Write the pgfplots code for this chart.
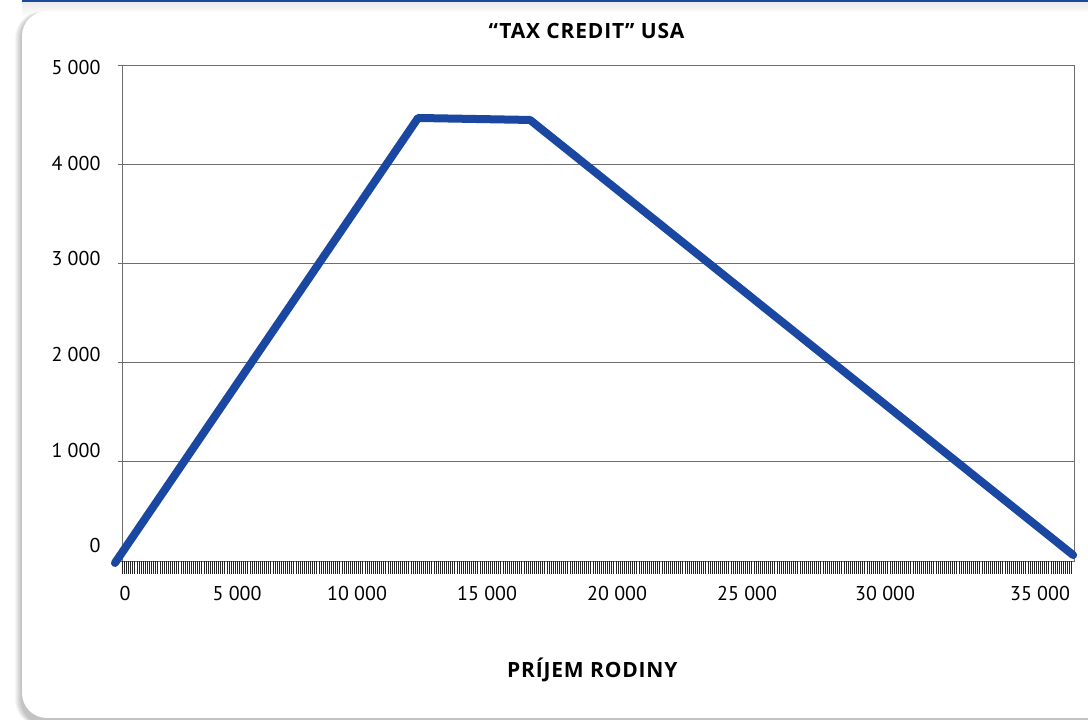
\documentclass[border=0pt]{standalone}
\usepackage{pgfplots}
\pgfplotsset{compat=1.18}
\usepackage{fontspec}
\setmainfont{PT Sans}
\newfontfamily\headfont[LetterSpace=4]{Open Sans}
\definecolor{creditblue}{HTML}{1A47A1}
\definecolor{barblue}{HTML}{1B4A9C}
\definecolor{gridgray}{HTML}{6E6E6E}

\begin{document}
\begin{tikzpicture}[x=1pt,y=1pt]
  \path[use as bounding box] (0,0) rectangle (1088,720);
  \clip (0,0) rectangle (1088,720);
  \fill[white] (0,0) rectangle (1088,720);
  % header rule and haze below it
  \fill[barblue] (22,717) rectangle (1088,720);
  \shade[top color=black!7, bottom color=white] (22,703) rectangle (1088,717);
  % card shadow
  \foreach \d in {1,...,7}{
    \fill[black, opacity=0.035, rounded corners=26] (22-\d,-6) rectangle (1120,708);
  }
  % card
  \fill[white, rounded corners=25] (22,2) rectangle (1120,709);

  \begin{axis}[
    at={(122pt,159pt)}, anchor=south west,
    scale only axis, width=952pt, height=496pt,
    xmin=-115, xmax=36300, ymin=0, ymax=5000,
    clip=false, scaled x ticks=false, scaled y ticks=false,
    axis line style={gridgray, line width=0.8pt},
    ymajorgrids, grid style={gridgray, line width=0.8pt},
    xtick pos=bottom, ytick pos=left,
    ytick={0,1000,2000,3000,4000,5000},
    yticklabels={0,1 000,2 000,3 000,4 000,5 000},
    ytick style={gridgray, line width=0.8pt},
    tick align=outside, major tick length=4pt,
    xtick={0,4285,8875,13849,18822,23795,29075,35000},
    xticklabels={0,5 000,10 000,15 000,20 000,25 000,30 000,35 000},
    xtick style={draw=none},
    extra x ticks={-100,-20,...,36200},
    extra x tick labels={},
    extra x tick style={xtick style={draw=black!85, line width=0.9pt}, major tick length=13pt, grid=none},
    ticklabel style={font=\fontsize{20}{23}\selectfont, text=black},
    xticklabel style={anchor=north, yshift=-18pt},
    yticklabel style={anchor=east, xshift=-14pt, yshift={15pt-3.5pt*\ticknum}},
    title={\headfont\fontsize{21}{24}\selectfont\bfseries “TAX CREDIT” USA},
    title style={at={(0.488,1)}, anchor=south, yshift=17pt},
    xlabel={\headfont\fontsize{21}{24}\selectfont\bfseries PRÍJEM RODINY},
    xlabel style={at={(0.494,0)}, anchor=center, yshift=-109pt},
  ]
    \addplot[creditblue, line width=8pt, line cap=round, line join=round]
      coordinates {(-385,-20) (11209,4466) (15493,4446) (36266,60)};
  \end{axis}
\end{tikzpicture}
\end{document}
